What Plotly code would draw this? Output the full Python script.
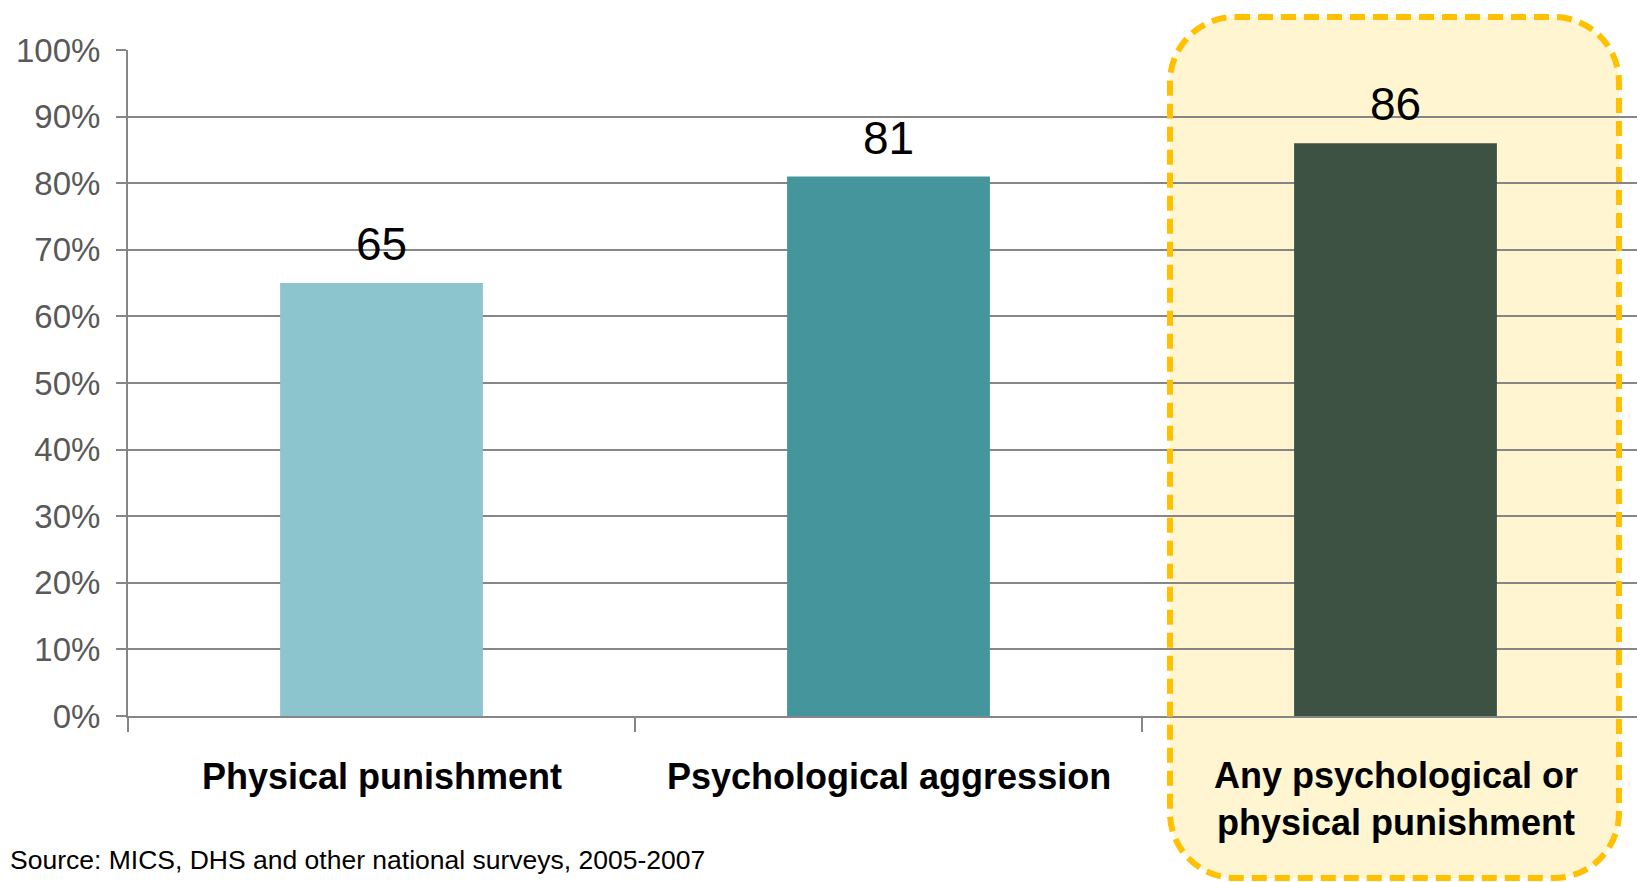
import plotly.graph_objects as go

categories = ["Physical punishment", "Psychological aggression", "Any psychological or<br>physical punishment"]
values = [65, 81, 86]
bar_colors = ["#8CC5CD", "#45959C", "#3E5243"]
y_ticks = [0, 10, 20, 30, 40, 50, 60, 70, 80, 90, 100]
y_tick_text = ["0%", "10%", "20%", "30%", "40%", "50%", "60%", "70%", "80%", "90%", "100%"]
source_text = "Source: MICS, DHS and other national surveys, 2005-2007"

W, H = 1637, 882
L, R, T, B = 128, 0, 50, 166
pw, ph = W - L - R, H - T - B
cat_px = 507.0
x_end = pw / cat_px - 0.5

FONT = "Liberation Sans, Arial"
GRID = "#868686"

xs = list(range(len(categories)))

fig = go.Figure()
fig.add_trace(go.Bar(x=xs, y=values, width=0.4, marker=dict(color=bar_colors, line=dict(width=0)),
                     hoverinfo="skip", showlegend=False))

# value labels
for x, v in zip(xs, values):
    fig.add_annotation(x=x, y=v, text=str(v), showarrow=False, yanchor="middle", yshift=39,
                       font=dict(family=FONT, size=46, color="#000000"))

# category labels
for i, (x, c) in enumerate(zip(xs, categories)):
    fig.add_annotation(x=x, y=0, text="<b>" + c + "</b>", showarrow=False, yanchor="middle",
                       yshift=-60 if "<br>" not in c else -83,
                       font=dict(family=FONT, size=36, color="#000000"), align="center")

def px2paper(px, py):
    return (px - L) / pw, (T + ph - py) / ph

sx, sy = px2paper(8, 860)
fig.add_annotation(xref="paper", yref="paper", x=sx, y=sy, text=source_text, showarrow=False,
                   xanchor="left", yanchor="middle",
                   font=dict(family=FONT, size=26.5, color="#000000"))

# highlight box (rounded, dashed)
bx0, bx1, by0, by1 = 1170, 1619, 17, 878
r = 65
k = 0.45
def P(px, py):
    x, y = px2paper(px, py)
    return f"{x:.5f},{y:.5f}"
path = (
    f"M {P(bx0 + r, by0)} L {P(bx1 - r, by0)} "
    f"C {P(bx1 - r * k, by0)} {P(bx1, by0 + r * k)} {P(bx1, by0 + r)} "
    f"L {P(bx1, by1 - r)} "
    f"C {P(bx1, by1 - r * k)} {P(bx1 - r * k, by1)} {P(bx1 - r, by1)} "
    f"L {P(bx0 + r, by1)} "
    f"C {P(bx0 + r * k, by1)} {P(bx0, by1 - r * k)} {P(bx0, by1 - r)} "
    f"L {P(bx0, by0 + r)} "
    f"C {P(bx0, by0 + r * k)} {P(bx0 + r * k, by0)} {P(bx0 + r, by0)} Z"
)
fig.add_shape(type="path", path=path, xref="paper", yref="paper", layer="below",
              fillcolor="#FFF5D0", line=dict(width=0))
fig.add_shape(type="path", path=path, xref="paper", yref="paper", layer="above",
              fillcolor="rgba(0,0,0,0)", line=dict(color="#FFC000", width=6, dash="15px,8px"))

fig.update_xaxes(range=[-0.5, x_end], tickvals=[-0.5, 0.5, 1.5], showticklabels=False,
                 ticks="outside", ticklen=14, tickwidth=2, tickcolor=GRID,
                 showgrid=False, showline=True, linecolor=GRID, linewidth=2, zeroline=False,
                 fixedrange=True)
fig.update_yaxes(range=[0, 100], tickvals=y_ticks, ticktext=y_tick_text, ticks="outside", ticklen=10,
                 tickwidth=2, tickcolor=GRID, showgrid=True, gridcolor=GRID, gridwidth=2,
                 showline=True, linecolor=GRID, linewidth=2, zeroline=False,
                 tickfont=dict(family=FONT, size=33, color="#595959"), ticklabelstandoff=9,
                 fixedrange=True)

fig.update_layout(width=W, height=H, margin=dict(l=L, r=R, t=T, b=B, autoexpand=False),
                  paper_bgcolor="white", plot_bgcolor="rgba(0,0,0,0)", bargap=0.6)

fig.write_html("out.html", config={"displayModeBar": False})
